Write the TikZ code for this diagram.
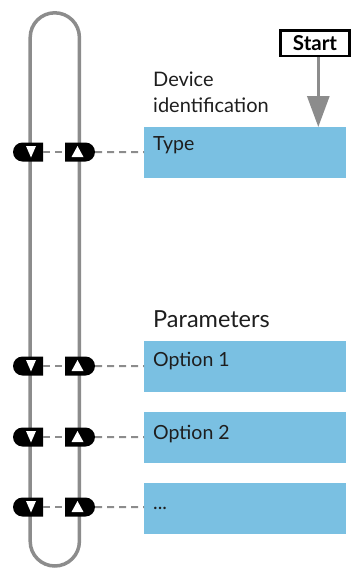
\documentclass[tikz,border=0pt]{standalone}
\usepackage{fontspec}
\setmainfont{Lato}
\usetikzlibrary{positioning,shapes.misc,arrows.meta}
\definecolor{boxblue}{RGB}{122,192,226}
\definecolor{railgray}{RGB}{140,140,140}
\definecolor{inkgray}{RGB}{30,30,30}
\newcommand{\downmark}[2]% x, y
{(#1-5,#2-6) -- (#1+5,#2-6) -- (#1,#2+5.5) -- cycle
}
\newcommand{\upmark}[2]% x, y
{(#1-6,#2+5) -- (#1+6,#2+5) -- (#1,#2-6) -- cycle
}
\tikzset{
  field/.style={fill=boxblue, minimum width=202pt, minimum height=51pt, inner sep=0pt, anchor=north west},
  fieldtext/.style={anchor=base west, inner sep=0pt, text=inkgray, font=\fontsize{19.5}{23}\selectfont},
  heading/.style={anchor=base west, inner sep=0pt, text=inkgray, font=\fontsize{20}{24}\selectfont},
  plugl/.style={rounded rectangle, rounded rectangle right arc=none, fill=black, minimum width=30pt, minimum height=19pt, inner sep=0pt},
  plugr/.style={rounded rectangle, rounded rectangle left arc=none, fill=black, minimum width=30pt, minimum height=19pt, inner sep=0pt},
  link/.style={draw=railgray, line width=2pt, dash pattern=on 7pt off 5pt},
}

\begin{document}
\begin{tikzpicture}[x=1pt,y=-1pt]
	\useasboundingbox (0,0) rectangle (351,568);
	% loop
	\draw[railgray, line width=3.5pt, rounded corners=24.6pt] (30.2,12.8) rectangle (79.4,566);
	% fields
	\node[field] (type) at (144,127) {};
	\node[field] (opt1) at (144,341) {};
	\node[field] (opt2) at (144,412) {};
	\node[field] (more) at (144,483) {};
	\node[fieldtext] (typetxt) at (153,150) {Type};
	\node[fieldtext] (opt1txt) at (153,366) {Option 1};
	\node[fieldtext] (opt2txt) at (153,439) {Option 2};
	\node[fieldtext] (moretxt) at (153,509) {...};
	% headings
	\node[heading] (dev) at (153,86) {Device};
	\node[heading] (ident) at (153,112) {identification};
	\node[heading, font=\fontsize{23.5}{28}\selectfont] (params) at (153,327) {Parameters};
	% start
	\node[draw, line width=2.5pt, minimum width=69pt, minimum height=25.5pt, inner sep=0pt,
	      font=\bfseries\fontsize{20.5}{24}\selectfont] (start) at (315,43) {Start};
	\draw[railgray, line width=3pt, -{Triangle[width=22pt,length=31pt]}]
	      ([xshift=3.3pt]start.south) -- ([xshift=3.3pt]start.south |- type.north);
	% plugs
	\node[plugl] (l0) at (28,152) {};%0
	\node[plugr] (r0) at (80,152) {};%0
	\node[plugl] (l1) at (28,366) {};%1
	\node[plugr] (r1) at (80,366) {};%1
	\node[plugl] (l2) at (28,437) {};%2
	\node[plugr] (r2) at (80,437) {};%2
	\node[plugl] (l3) at (28,507) {};%3
	\node[plugr] (r3) at (80,507) {};%3
	\fill[white] \downmark{31}{152} \upmark{77.5}{152};
	\fill[white] \downmark{31}{366} \upmark{77.5}{366};
	\fill[white] \downmark{31}{437} \upmark{77.5}{437};
	\fill[white] \downmark{31}{507} \upmark{77.5}{507};
	% links
	\draw[link] (l0) -- (r0);
	\draw[link] (r0) -- (r0 -| type.west);
	\draw[link] (l1) -- (r1);
	\draw[link] (r1) -- (r1 -| opt1.west);
	\draw[link] (l2) -- (r2);
	\draw[link] (r2) -- (r2 -| opt2.west);
	\draw[link] (l3) -- (r3);
	\draw[link] (r3) -- (r3 -| more.west);
\end{tikzpicture}
\end{document}
